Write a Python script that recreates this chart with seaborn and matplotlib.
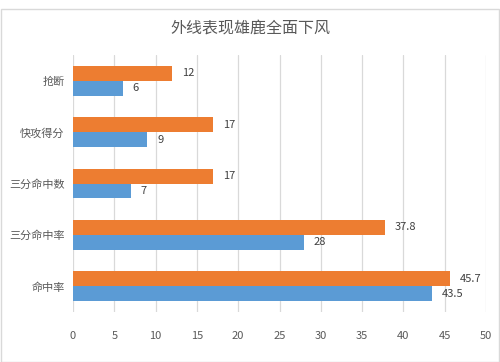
import pandas as pd
import seaborn as sns
import matplotlib.pyplot as plt

# data
categories = ["抢断", "快攻得分", "三分命中数", "三分命中率", "命中率"]
opponent = [12, 17, 17, 37.8, 45.7]
bucks = [6, 9, 7, 28, 43.5]
x_ticks = [0, 5, 10, 15, 20, 25, 30, 35, 40, 45, 50]

df = pd.DataFrame({
    "category": categories * 2,
    "value": opponent + bucks,
    "team": ["对手"] * len(categories) + ["雄鹿"] * len(categories),
})

sns.set_style("white")
plt.rcParams["font.family"] = ["Noto Sans CJK SC", "DejaVu Sans"]

fig = plt.figure(figsize=(5, 3.62), dpi=100)
ax = fig.add_axes([0.146, 0.138, 0.826, 0.71])

sns.barplot(data=df, x="value", y="category", hue="team", orient="h",
            order=categories, hue_order=["对手", "雄鹿"],
            palette=["#ED7D31", "#5B9BD5"], width=0.58, saturation=1,
            linewidth=0, legend=False, ax=ax)

for c in ax.containers:
    ax.bar_label(c, fmt="%g", padding=7, fontsize=8, color="#404040")

ax.set_xlim(0, 50)
ax.set_xticks(x_ticks)
ax.xaxis.grid(True, color="#D9D9D9", linewidth=0.9)
ax.set_axisbelow(True)
ax.set_xlabel("")
ax.set_ylabel("")
for s in ax.spines.values():
    s.set_visible(False)
ax.tick_params(axis="both", length=0, labelsize=8, labelcolor="#595959")
ax.tick_params(axis="x", pad=14)
ax.tick_params(axis="y", pad=6)

fig.suptitle("外线表现雄鹿全面下风", y=0.945, fontsize=11.5, color="#595959")

# light border around the chart area
fig.patches.append(plt.Rectangle((0.002, 0.0), 0.996, 0.975, transform=fig.transFigure,
                                 fill=False, edgecolor="#D9D9D9", linewidth=1))

fig.savefig("out.png", dpi=100)
